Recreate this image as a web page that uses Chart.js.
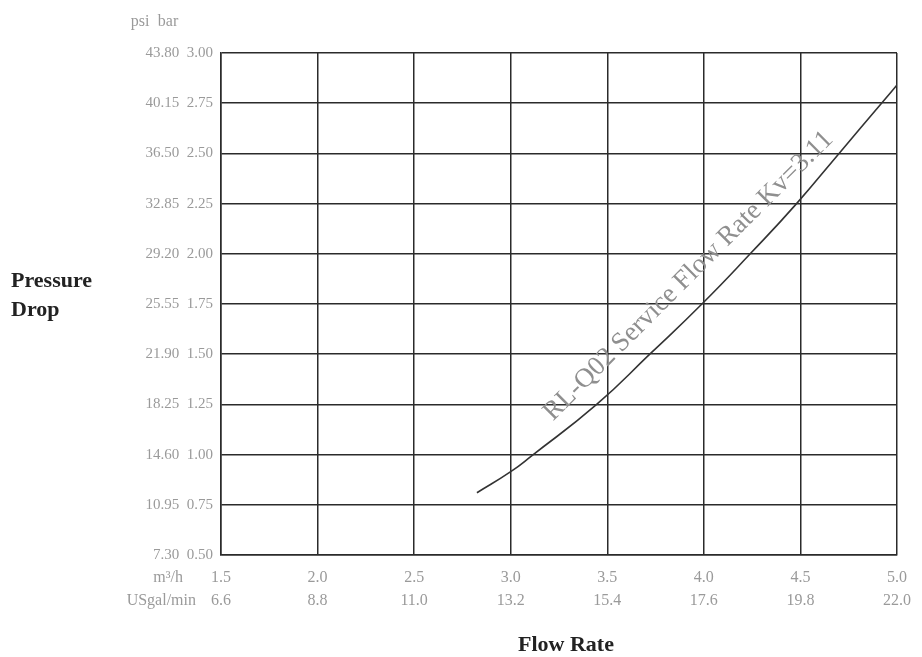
<!DOCTYPE html>
<html>
<head>
<meta charset="utf-8">
<script src="https://cdn.jsdelivr.net/npm/chart.js@4"></script>
<style>
html,body{margin:0;padding:0;background:#fff;}
#wrap{width:922px;height:657px;position:relative;}
</style>
</head>
<body>
<div id="wrap"><canvas id="c" width="922" height="657"></canvas></div>
<script>
// ---- data ----
const flowM3h = [2.825, 3.0, 3.11, 3.445, 3.72, 3.99, 4.24, 4.48, 4.70, 4.92, 5.015];
const dropBar = [0.81, 0.915, 0.995, 1.25, 1.50, 1.75, 2.00, 2.25, 2.50, 2.75, 2.857];
const xTicksM3h = ['1.5','2.0','2.5','3.0','3.5','4.0','4.5','5.0'];
const xTicksGpm = ['6.6','8.8','11.0','13.2','15.4','17.6','19.8','22.0'];
const yTicksBar = ['0.50','0.75','1.00','1.25','1.50','1.75','2.00','2.25','2.50','2.75','3.00'];
const yTicksPsi = ['7.30','10.95','14.60','18.25','21.90','25.55','29.20','32.85','36.50','40.15','43.80'];
const curveLabel = 'RL-Q02 Service Flow Rate Kv=3.11';
const curveLabelAt = {x: 3.92, y: 1.89};
const yTitle = ['Pressure', 'Drop'];
const xTitle = 'Flow Rate';
const xUnits = ['m³/h', 'USgal/min'];
const yUnits = ['psi', 'bar'];

const points = flowM3h.map((q, i) => ({x: q, y: dropBar[i]}));
const SERIF = '"Liberation Serif", "DejaVu Serif", serif';
const TICK_COLOR = '#9a9a9a';
const GRID = '#2b2b2b';

const extras = {
  id: 'extras',
  afterDraw(chart) {
    const ctx = chart.ctx;
    const xs = chart.scales.x, ys = chart.scales.y;
    ctx.save();
    // y axis title
    ctx.fillStyle = '#222';
    ctx.font = 'bold 22px ' + SERIF;
    ctx.textAlign = 'left';
    ctx.textBaseline = 'middle';
    ctx.fillText(yTitle[0], 11, 281);
    ctx.fillText(yTitle[1], 11, 310);
    // x axis title
    ctx.textAlign = 'center';
    ctx.fillText(xTitle, (xs.left + xs.right) / 2 + 7, 645);
    // unit headers
    ctx.fillStyle = TICK_COLOR;
    ctx.font = '16px ' + SERIF;
    ctx.textAlign = 'center';
    ctx.fillText(yUnits[0], 140, 22);
    ctx.fillText(yUnits[1], 168, 22);
    ctx.textAlign = 'right';
    const x0 = xs.getPixelForValue(1.5);
    ctx.fillText(xUnits[0], x0 - 38, 578);
    ctx.fillText(xUnits[1], x0 - 25, 601);
    // curve label
    const px = xs.getPixelForValue(curveLabelAt.x);
    const py = ys.getPixelForValue(curveLabelAt.y);
    ctx.translate(px, py);
    ctx.rotate(-Math.PI / 4);
    ctx.fillStyle = '#8f8f8f';
    ctx.font = '27px ' + SERIF;
    ctx.textAlign = 'center';
    ctx.textBaseline = 'middle';
    ctx.fillText(curveLabel, 0, 0);
    ctx.restore();
  }
};

new Chart(document.getElementById('c'), {
  type: 'line',
  data: {
    datasets: [{
      data: points,
      borderColor: '#333',
      borderWidth: 1.6,
      pointRadius: 0,
      fill: false,
      tension: 0.5
    }]
  },
  options: {
    responsive: false,
    animation: false,
    devicePixelRatio: 1,
    layout: {padding: {left: 0, right: 25, top: 53, bottom: 0}},
    plugins: {legend: {display: false}, tooltip: {enabled: false}},
    scales: {
      x: {
        type: 'linear', min: 1.5, max: 5.0,
        ticks: {
          stepSize: 0.5, padding: 11, color: TICK_COLOR,
          font: {family: SERIF, size: 16, lineHeight: 1.45},
          maxRotation: 0, autoSkip: false,
          callback: (v, i) => [xTicksM3h[i], xTicksGpm[i]]
        },
        grid: {color: GRID, lineWidth: 1.5, drawTicks: false},
        border: {color: GRID, width: 1.5},
        afterFit: s => { s.height = 102; }
      },
      y: {
        type: 'linear', min: 0.5, max: 3.0,
        ticks: {
          stepSize: 0.25, padding: 8, color: TICK_COLOR,
          font: {family: SERIF, size: 15},
          autoSkip: false,
          callback: (v, i) => yTicksPsi[i] + '  ' + yTicksBar[i]
        },
        grid: {color: GRID, lineWidth: 1.5, drawTicks: false},
        border: {color: GRID, width: 1.5},
        afterFit: s => { s.width = 221; }
      }
    }
  },
  plugins: [extras]
});
</script>
</body>
</html>
